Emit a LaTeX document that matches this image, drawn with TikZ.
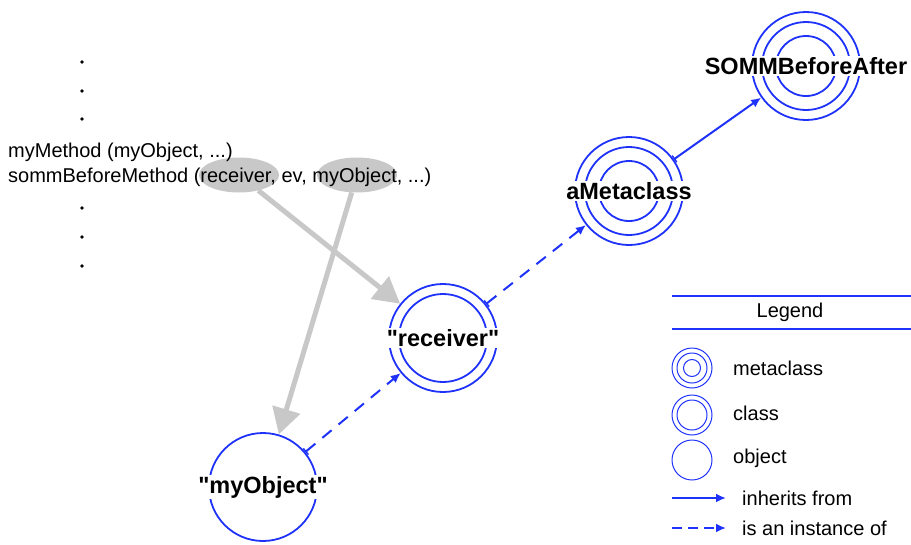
\documentclass[tikz,border=0pt]{standalone}
\usepackage{fontspec}
\setmainfont{Liberation Sans}
\usetikzlibrary{shapes.geometric,arrows.meta}
\definecolor{sommblue}{RGB}{30,50,250}
\definecolor{callgray}{RGB}{200,200,200}
\newcommand{\qt}{\XeTeXglyph\XeTeXcharglyph"22\relax}
\tikzset{
  ring/.style={circle, draw=sommblue, line width=1.8pt, inner sep=0pt, minimum size=#1},
  ring/.default=108pt,
  keyring/.style={ring=#1, line width=1pt},
  keyring/.default=40pt,
  lbl/.style={fill=white, inner sep=1pt, font=\fontsize{23.5}{27}\selectfont\bfseries},
  txt/.style={anchor=west, inner sep=0pt, font=\fontsize{20}{24}\selectfont},
  arg/.style={ellipse, fill=callgray, minimum width=80pt, minimum height=35pt, inner sep=0pt},
  dot/.style={circle, fill=black, inner sep=0pt, minimum size=3.8pt},
  calls/.style={callgray, line width=5pt, -{Triangle[length=26pt,width=28pt]}},
  inherits/.style={sommblue, line width=2pt, -{Latex[length=10pt,width=9pt]}},
  instance/.style={inherits, dash pattern=on 12pt off 9pt},
  ticked/.style={{Bar[width=8pt,line width=1.5pt]}-{Latex[length=10pt,width=9pt]}},
}
\begin{document}
\begin{tikzpicture}[x=1pt, y=-1pt]
\useasboundingbox (0,0) rectangle (911,544);
% the call site
\foreach \y [count=\i] in {62,91,119,208,237,266}
  \node[dot] (dot\i) at (82,\y) {};
\node[arg] (recvarg) at (239,175) {};
\node[arg] (objarg) at (357,175) {};
\node[txt] (mcall) at (8,152) {myMethod (myObject, ...)};
\node[txt] (scall) at (8,177) {sommBeforeMethod (receiver, ev, myObject, ...)};
% objects, classes and metaclasses
\node[ring] (myobj) at (263,487) {};
\node[ring] (recv) at (443,338) {};
\node[ring=88pt] (recvin) at (recv) {};
\node[ring] (meta) at (629,191) {};
\node[ring=88pt] (metamid) at (meta) {};
\node[ring=60pt] (metain) at (meta) {};
\node[ring] (somm) at (806,66) {};
\node[ring=88pt] (sommmid) at (somm) {};
\node[ring=60pt] (sommin) at (somm) {};
\node[lbl] (myobjlbl) at (myobj) {\qt myObject\qt};
\node[lbl] (recvlbl) at (recv) {\qt receiver\qt};
\node[lbl] (metalbl) at (meta) {aMetaclass};
\node[lbl] (sommlbl) at (somm) {SOMMBeforeAfter};
\draw[calls] (recvarg) -- (recv);
\draw[calls] (objarg) -- (myobj);
\draw[instance, ticked] (myobj) -- (recv);
\draw[instance, ticked] (recv) -- (meta);
\draw[inherits, ticked] (meta) -- (somm);
% legend
\coordinate (lgtopL) at (672,296);
\coordinate (lgtopR) at (911,296);
\coordinate (lgbotL) at (672,329);
\coordinate (lgbotR) at (911,329);
\draw[sommblue, line width=1.5pt] (lgtopL) -- (lgtopR);
\draw[sommblue, line width=1.5pt] (lgbotL) -- (lgbotR);
\node[font=\fontsize{20}{24}\selectfont] (lgtitle) at (790,312) {Legend};
\node[keyring] (keymeta) at (692,368) {};
\node[keyring=30pt] (keymetamid) at (keymeta) {};
\node[keyring=17pt] (keymetain) at (keymeta) {};
\node[keyring] (keyclass) at (692,415) {};
\node[keyring=30pt] (keyclassin) at (keyclass) {};
\node[keyring] (keyobj) at (692,460) {};
\node[txt] (keymetatxt) at (733,368) {metaclass};
\node[txt] (keyclasstxt) at (733,413) {class};
\node[txt] (keyobjtxt) at (733,458) {object};
\coordinate (inhA) at (672,498);
\coordinate (inhB) at (726,498);
\coordinate (instA) at (672,528);
\coordinate (instB) at (726,528);
\draw[inherits] (inhA) -- (inhB);
\draw[instance, dash pattern=on 10pt off 6pt] (instA) -- (instB);
\node[txt] (inhtxt) at (742,498) {inherits from};
\node[txt] (insttxt) at (742,528) {is an instance of};
\end{tikzpicture}
\end{document}
